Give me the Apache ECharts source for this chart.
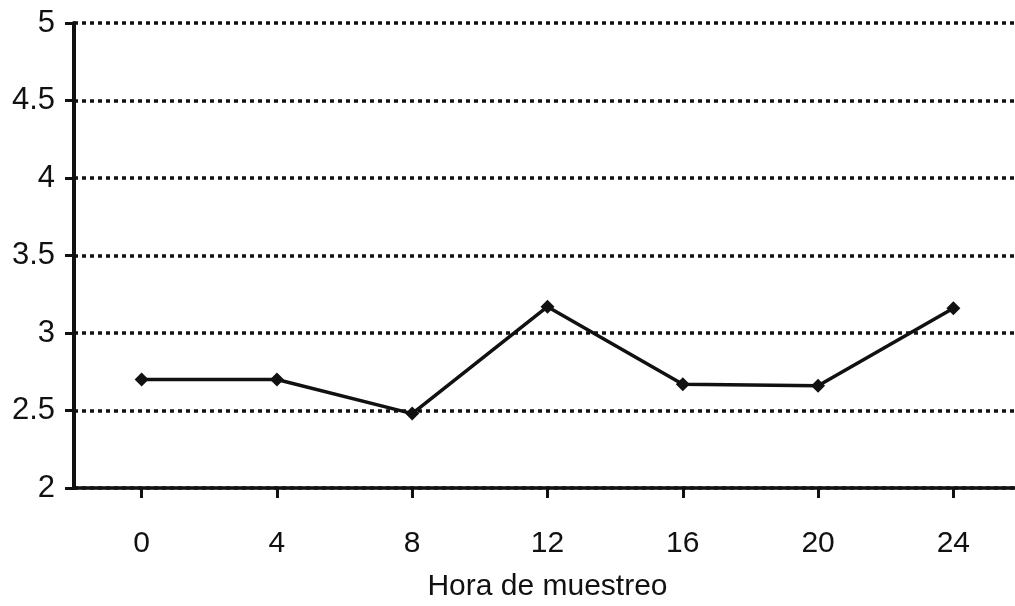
<!DOCTYPE html>
<html>
<head>
<meta charset="utf-8">
<script src="https://cdn.jsdelivr.net/npm/echarts@6/dist/echarts.min.js"></script>
<style>
  html, body { margin: 0; padding: 0; background: #fff; }
  #chart { width: 1015px; height: 606px; }
</style>
</head>
<body>
<div id="chart"></div>
<script>
// hora de muestreo (h)
const horas = ["0", "4", "8", "12", "16", "20", "24"];
// valores medidos
const valores = [2.70, 2.70, 2.48, 3.17, 2.67, 2.66, 3.16];
// eje y
const yMin = 2;
const yMax = 5;
const yStep = 0.5;

const chart = echarts.init(document.getElementById("chart"));
const option = {
  animation: false,
  backgroundColor: "#fff",
  grid: {
    left: 74,
    right: -6,
    top: 23,
    bottom: 118,
    outerBoundsMode: "none",
  },
  xAxis: {
    type: "category",
    data: horas,
    boundaryGap: true,
    name: "Hora de muestreo",
    nameLocation: "middle",
    nameGap: 84,
    nameTextStyle: {
      fontFamily: "Liberation Sans",
      fontSize: 30,
      color: "#111",
    },
    axisLine: {
      lineStyle: { color: "#111", width: 3.5 },
    },
    axisTick: {
      show: true,
      alignWithLabel: true,
      interval: 0,
      length: 10,
      lineStyle: { color: "#111", width: 3 },
    },
    axisLabel: {
      margin: 41,
      fontFamily: "Liberation Sans",
      fontSize: 30,
      color: "#111",
    },
    splitLine: { show: false },
  },
  yAxis: {
    type: "value",
    min: yMin,
    max: yMax,
    interval: yStep,
    axisLine: {
      show: true,
      lineStyle: { color: "#111", width: 4 },
    },
    axisTick: {
      show: true,
      length: 9,
      lineStyle: { color: "#111", width: 3 },
    },
    axisLabel: {
      margin: 19,
      fontFamily: "Liberation Sans",
      fontSize: 31,
      color: "#111",
    },
    splitLine: {
      show: true,
      lineStyle: { color: "#111", width: 3.5, type: [4, 4] },
    },
  },
  series: [
    {
      type: "line",
      data: valores,
      symbol: "diamond",
      symbolSize: 14,
      itemStyle: { color: "#111" },
      lineStyle: { color: "#111", width: 3.5 },
    },
  ],
};
chart.setOption(option);
</script>
</body>
</html>
